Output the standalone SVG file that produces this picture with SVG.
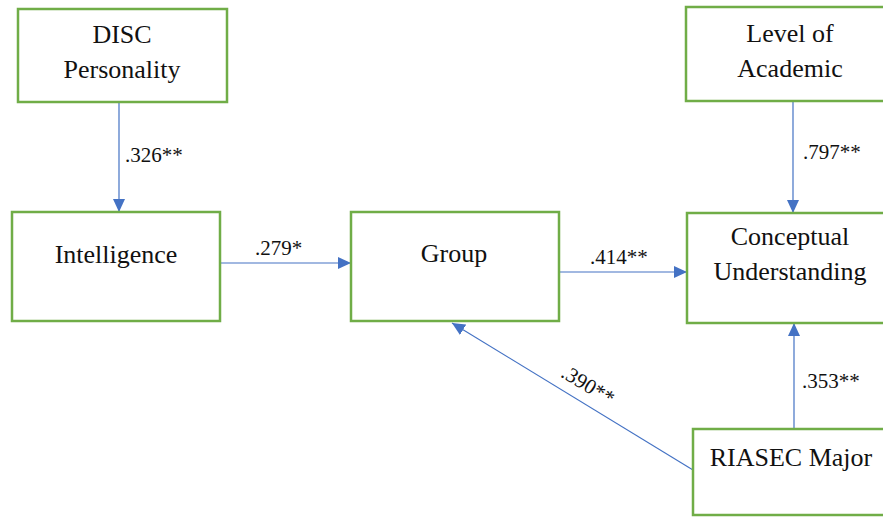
<svg xmlns="http://www.w3.org/2000/svg" width="883" height="517" viewBox="0 0 883 517">
  <style>
    .box { fill: #ffffff; stroke: #70AD47; stroke-width: 2.5; }
    .name { font-size: 26px; fill: #111111; text-anchor: middle; }
    .coef { font-size: 21px; fill: #111111; }
    .link { stroke: #4472C4; stroke-width: 1.2; fill: none; marker-end: url(#head); }
  </style>
  <defs>
    <marker id="head" markerUnits="userSpaceOnUse" viewBox="0 0 13 12" markerWidth="13" markerHeight="12" refX="13" refY="6" orient="auto">
      <path d="M0,0 L13,6 L0,12 z" fill="#4472C4"/>
    </marker>
  </defs>

  <rect width="883" height="517" fill="#ffffff"/>

  <g font-family="'Liberation Serif', 'DejaVu Serif', serif">
  <g id="connectors">
    <line class="link" x1="119" y1="102" x2="119" y2="212"/>
    <line class="link" x1="220" y1="263" x2="351" y2="263"/>
    <line class="link" x1="559" y1="272" x2="687" y2="272"/>
    <line class="link" x1="793" y1="101" x2="793" y2="213"/>
    <line class="link" x1="794" y1="429" x2="794" y2="323"/>
    <line class="link" x1="693" y1="470" x2="452" y2="323"/>
    <text class="coef" x="125" y="162">.326**</text>
    <text class="coef" x="255" y="255">.279*</text>
    <text class="coef" x="590" y="264">.414**</text>
    <text class="coef" x="803" y="159">.797**</text>
    <text class="coef" x="802" y="388">.353**</text>
    <text class="coef" transform="translate(588,385) rotate(31)" x="0" y="7" text-anchor="middle">.390**</text>
  </g>

  <g id="disc">
    <rect class="box" x="18" y="9" width="209" height="93"/>
    <text class="name" x="122" y="43">DISC</text>
    <text class="name" x="122" y="78">Personality</text>
  </g>

  <g id="level">
    <rect class="box" x="686" y="7" width="210" height="94"/>
    <text class="name" x="790" y="42">Level of</text>
    <text class="name" x="790" y="77">Academic</text>
  </g>

  <g id="intelligence">
    <rect class="box" x="12" y="212" width="208" height="109"/>
    <text class="name" x="116" y="263">Intelligence</text>
  </g>

  <g id="group">
    <rect class="box" x="351" y="212" width="208" height="109"/>
    <text class="name" x="454" y="262">Group</text>
  </g>

  <g id="conceptual">
    <rect class="box" x="687" y="213" width="210" height="110"/>
    <text class="name" x="790" y="245">Conceptual</text>
    <text class="name" x="790" y="280">Understanding</text>
  </g>

  <g id="riasec">
    <rect class="box" x="693" y="429" width="210" height="86"/>
    <text class="name" x="791" y="466">RIASEC Major</text>
  </g>
  </g>
</svg>
